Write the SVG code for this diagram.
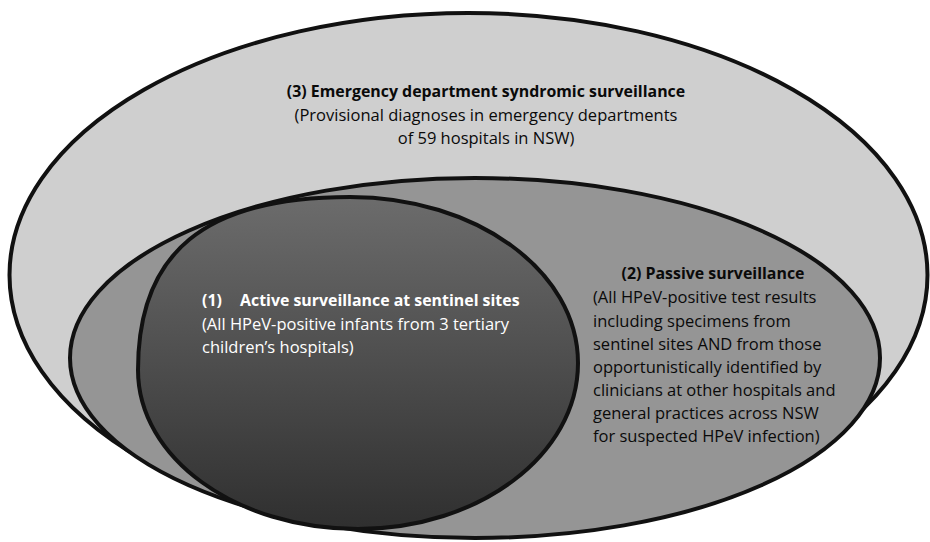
<svg xmlns="http://www.w3.org/2000/svg" width="930" height="542" viewBox="0 0 930 542">
  <style>
    .shape { stroke: #111; stroke-width: 4; }
    .t { font-family: "Open Sans", "Liberation Sans", sans-serif; font-size: 16.5px; }
    .b { font-weight: bold; font-size: 15.9px; }
    .dk { fill: #0a0a0a; }
    .wh { fill: #fff; }
  </style>
  <defs>
    <linearGradient id="g1" x1="0" y1="0" x2="0" y2="1">
      <stop offset="0" stop-color="#6c6c6c"/>
      <stop offset="1" stop-color="#2f2f2f"/>
    </linearGradient>
  </defs>
  <rect width="930" height="542" fill="#fff"/>
  <g id="node3">
    <ellipse class="shape" cx="468.5" cy="275" rx="459" ry="262" fill="#cfcfcf"/>
    <text class="t b dk" x="486" y="97" text-anchor="middle">(3) Emergency department syndromic surveillance</text>
    <text class="t dk" x="486" y="121" text-anchor="middle">(Provisional diagnoses in emergency departments</text>
    <text class="t dk" x="486" y="144" text-anchor="middle">of 59 hospitals in NSW)</text>
  </g>
  <g id="node2">
    <ellipse class="shape" cx="475" cy="358" rx="405" ry="180" fill="#959595"/>
    <text class="t b dk" x="713" y="279" text-anchor="middle">(2) Passive surveillance</text>
    <text class="t dk" x="593" y="303">(All HPeV-positive test results</text>
    <text class="t dk" x="593" y="327">including specimens from</text>
    <text class="t dk" x="593" y="350">sentinel sites AND from those</text>
    <text class="t dk" x="593" y="373">opportunistically identified by</text>
    <text class="t dk" x="593" y="396">clinicians at other hospitals and</text>
    <text class="t dk" x="593" y="419">general practices across NSW</text>
    <text class="t dk" x="593" y="442">for suspected HPeV infection)</text>
  </g>
  <g id="node1">
    <path class="shape" fill="url(#g1)" d="M350,197 C476,197 578,271 578,363 C578,455 479,529 358,529 C236,529 138,458 138,370 C138,252 205,197 350,197 Z"/>
    <text class="t b wh" x="202" y="306">(1)</text>
    <text class="t b wh" x="240" y="306">Active surveillance at sentinel sites</text>
    <text class="t wh" x="202" y="330">(All HPeV-positive infants from 3 tertiary</text>
    <text class="t wh" x="202" y="353">children’s hospitals)</text>
  </g>
  <g id="connectors"/>
</svg>
